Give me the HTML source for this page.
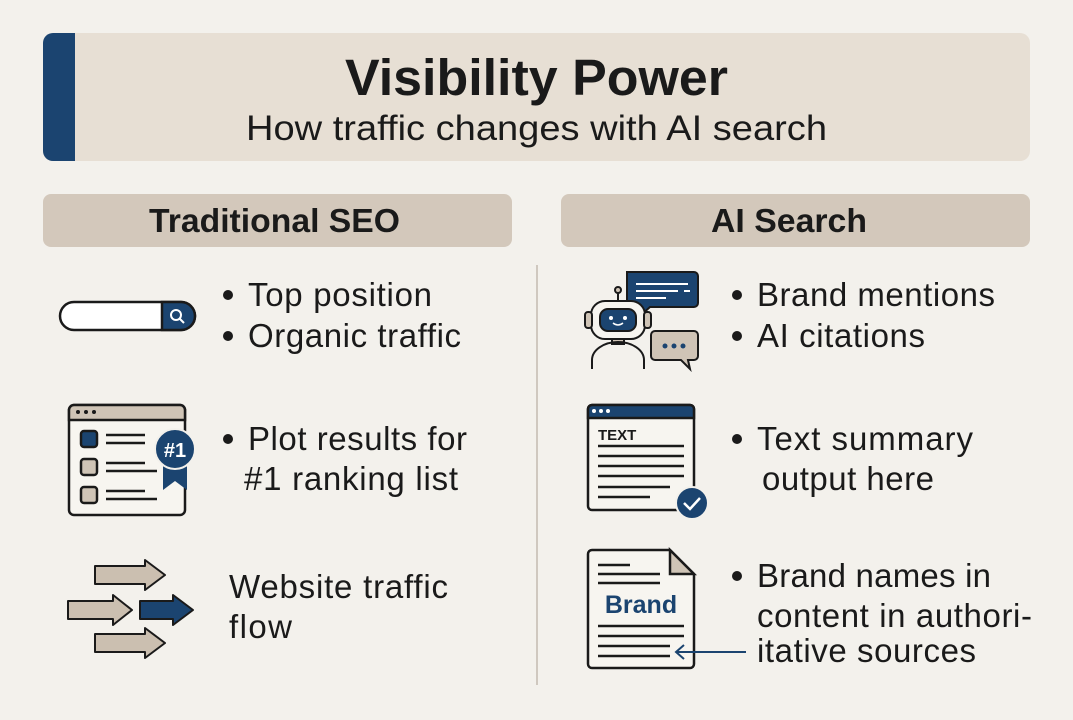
<!DOCTYPE html>
<html><head><meta charset="utf-8"><style>
body{margin:0;background:#f3f1ec;}
svg{display:block}
text{font-family:"Liberation Sans",sans-serif;fill:#1a1a1a}
</style></head><body>
<svg width="1073" height="720" viewBox="0 0 1073 720">
<rect width="1073" height="720" fill="#f3f1ec"/>
<!-- header -->
<rect x="43" y="33" width="987" height="128" rx="10" fill="#e7dfd4"/>
<path d="M53 33 H75 V161 H53 A10 10 0 0 1 43 151 V43 A10 10 0 0 1 53 33Z" fill="#1b4470"/>
<text x="345" y="95" font-size="51" font-weight="bold" textLength="383" lengthAdjust="spacingAndGlyphs">Visibility Power</text>
<text x="246" y="140" font-size="35" textLength="581" lengthAdjust="spacingAndGlyphs">How traffic changes with AI search</text>
<!-- section headers -->
<rect x="43" y="194" width="469" height="53" rx="8" fill="#d3c8bb"/>
<rect x="561" y="194" width="469" height="53" rx="8" fill="#d3c8bb"/>
<text x="149" y="232" font-size="33" font-weight="bold" textLength="251" lengthAdjust="spacingAndGlyphs">Traditional SEO</text>
<text x="711" y="232" font-size="33" font-weight="bold" textLength="156" lengthAdjust="spacingAndGlyphs">AI Search</text>
<line x1="537" y1="265" x2="537" y2="685" stroke="#cfc8bf" stroke-width="2"/>
<!-- text -->
<g font-size="33" lengthAdjust="spacingAndGlyphs">
<circle cx="228" cy="295" r="5" fill="#1a1a1a"/><text x="248" y="306" textLength="184">Top position</text>
<circle cx="228" cy="336" r="5" fill="#1a1a1a"/><text x="248" y="347" textLength="213">Organic traffic</text>
<circle cx="228" cy="439" r="5" fill="#1a1a1a"/><text x="248" y="450" textLength="219">Plot results for</text>
<text x="244" y="490" textLength="214">#1 ranking list</text>
<text x="229" y="598" textLength="219">Website traffic</text>
<text x="229" y="638" textLength="63">flow</text>
<circle cx="737" cy="295" r="5" fill="#1a1a1a"/><text x="757" y="306" textLength="238">Brand mentions</text>
<circle cx="737" cy="336" r="5" fill="#1a1a1a"/><text x="757" y="347" textLength="168">AI citations</text>
<circle cx="737" cy="439" r="5" fill="#1a1a1a"/><text x="757" y="450" textLength="216">Text summary</text>
<text x="762" y="490" textLength="172">output here</text>
<circle cx="737" cy="576" r="5" fill="#1a1a1a"/><text x="757" y="587" textLength="234">Brand names in</text>
<text x="757" y="627" textLength="275">content in authori-</text>
<text x="757" y="662" textLength="219">itative sources</text>
</g>
<!-- search bar -->
<g stroke="#1a1a1a" stroke-width="2.5">
<rect x="60" y="302" width="135" height="28" rx="14" fill="#fff"/>
<path d="M162 302 H181 A14 14 0 0 1 181 330 H162Z" fill="#1b4470"/>
</g>
<circle cx="176" cy="315" r="5" fill="none" stroke="#fff" stroke-width="2"/>
<line x1="180" y1="319" x2="184" y2="323" stroke="#fff" stroke-width="2"/>
<!-- browser list -->
<g stroke="#1a1a1a" stroke-width="2.5">
<rect x="69" y="405" width="116" height="110" rx="5" fill="#f7f5f0"/>
<path d="M74 405 H180 A5 5 0 0 1 185 410 V420 H69 V410 A5 5 0 0 1 74 405Z" fill="#cfc4b6"/>
<rect x="81" y="431" width="16" height="16" rx="3" fill="#1b4470"/>
<rect x="81" y="459" width="16" height="16" rx="3" fill="#cfc4b6"/>
<rect x="81" y="487" width="16" height="16" rx="3" fill="#cfc4b6"/>
<line x1="106" y1="435" x2="145" y2="435"/><line x1="106" y1="443" x2="145" y2="443"/>
<line x1="106" y1="463" x2="145" y2="463"/><line x1="106" y1="471" x2="157" y2="471"/>
<line x1="106" y1="491" x2="145" y2="491"/><line x1="106" y1="499" x2="157" y2="499"/>
</g>
<g fill="#1a1a1a"><circle cx="78" cy="412" r="2"/><circle cx="86" cy="412" r="2"/><circle cx="94" cy="412" r="2"/></g>
<path d="M163 460 V490 L175 481 L187 490 V460Z" fill="#1b4470"/>
<circle cx="175" cy="449" r="20" fill="#1b4470" stroke="#f3f1ec" stroke-width="2"/>
<text x="175" y="457" font-size="20" font-weight="bold" text-anchor="middle" style="fill:#fff">#1</text>
<!-- arrows -->
<g stroke="#1a1a1a" stroke-width="2" stroke-linejoin="round">
<path d="M95 566 H145 V560 L165 575 L145 590 V584 H95Z" fill="#cbbfb0"/>
<path d="M68 601 H113 V595 L132 610 L113 625 V619 H68Z" fill="#cbbfb0"/>
<path d="M140 601 H173 V595 L193 610 L173 625 V619 H140Z" fill="#1b4470"/>
<path d="M95 634 H145 V628 L165 643 L145 658 V652 H95Z" fill="#cbbfb0"/>
</g>
<!-- robot -->
<g stroke="#1a1a1a" stroke-width="2">
<path d="M627 272 H694 A4 4 0 0 1 698 276 V303 A4 4 0 0 1 694 307 H650 L640 316 L641 307 H631 A4 4 0 0 1 627 303Z" fill="#1b4470"/>
<path d="M655 331 H694 A4 4 0 0 1 698 335 V356 A4 4 0 0 1 694 360 H688 L690 369 L681 360 H655 A4 4 0 0 1 651 356 V335 A4 4 0 0 1 655 331Z" fill="#cfc4b6"/>
<line x1="618" y1="293" x2="618" y2="301"/>
<circle cx="618" cy="290" r="3" fill="#cfc4b6"/>
<rect x="591" y="301" width="54" height="38" rx="14" fill="#f7f5f0"/>
<rect x="585" y="312" width="7" height="16" rx="3" fill="#cfc4b6"/>
<rect x="644" y="312" width="7" height="16" rx="3" fill="#cfc4b6"/>
<rect x="600" y="309" width="36" height="22" rx="8" fill="#1b4470"/>
<rect x="612" y="339" width="12" height="5" fill="#cfc4b6"/>
<path d="M592 369 V360 A26 18 0 0 1 644 360 V369" fill="none"/>
</g>
<g stroke="#fff" stroke-width="2"><line x1="636" y1="284" x2="688" y2="284"/><line x1="636" y1="291" x2="678" y2="291"/><line x1="684" y1="291" x2="690" y2="291"/><line x1="636" y1="298" x2="666" y2="298"/></g>
<g fill="#fff"><circle cx="611" cy="318" r="2"/><circle cx="625" cy="318" r="2"/></g>
<path d="M613 323 Q618 327 623 323" stroke="#fff" stroke-width="1.5" fill="none"/>
<g fill="#1b4470"><circle cx="665" cy="346" r="2.5"/><circle cx="674" cy="346" r="2.5"/><circle cx="683" cy="346" r="2.5"/></g>
<!-- text doc -->
<g stroke="#1a1a1a" stroke-width="2.5">
<rect x="588" y="405" width="106" height="105" rx="4" fill="#f7f5f0"/>
<path d="M592 405 H690 A4 4 0 0 1 694 409 V418 H588 V409 A4 4 0 0 1 592 405Z" fill="#1b4470"/>
<line x1="598" y1="446" x2="684" y2="446"/><line x1="598" y1="456" x2="684" y2="456"/>
<line x1="598" y1="466" x2="684" y2="466"/><line x1="598" y1="476" x2="684" y2="476"/>
<line x1="598" y1="487" x2="670" y2="487"/><line x1="598" y1="497" x2="650" y2="497"/>
</g>
<g fill="#fff"><circle cx="594" cy="411" r="2"/><circle cx="601" cy="411" r="2"/><circle cx="608" cy="411" r="2"/></g>
<text x="598" y="440" font-size="15" font-weight="bold">TEXT</text>
<circle cx="692" cy="503" r="16" fill="#1b4470" stroke="#f3f1ec" stroke-width="2"/>
<path d="M684 503 L690 509 L700 498" stroke="#fff" stroke-width="2.5" fill="none"/>
<!-- brand doc -->
<g stroke="#1a1a1a" stroke-width="2.5">
<path d="M592 550 H670 L694 574 V664 A4 4 0 0 1 690 668 H592 A4 4 0 0 1 588 664 V554 A4 4 0 0 1 592 550Z" fill="#f7f5f0"/>
<path d="M670 550 V574 H694Z" fill="#cfc4b6"/>
<line x1="598" y1="565" x2="630" y2="565"/><line x1="598" y1="574" x2="660" y2="574"/><line x1="598" y1="583" x2="660" y2="583"/>
<line x1="598" y1="626" x2="684" y2="626"/><line x1="598" y1="636" x2="684" y2="636"/>
<line x1="598" y1="646" x2="670" y2="646"/><line x1="598" y1="656" x2="670" y2="656"/>
</g>
<text x="641" y="613" font-size="25" font-weight="bold" text-anchor="middle" style="fill:#1b4470">Brand</text>
<line x1="677" y1="652" x2="746" y2="652" stroke="#1b4470" stroke-width="2"/>
<path d="M684 645 L676 652 L684 659" stroke="#1b4470" stroke-width="2" fill="none"/>
</svg>
</body></html>
